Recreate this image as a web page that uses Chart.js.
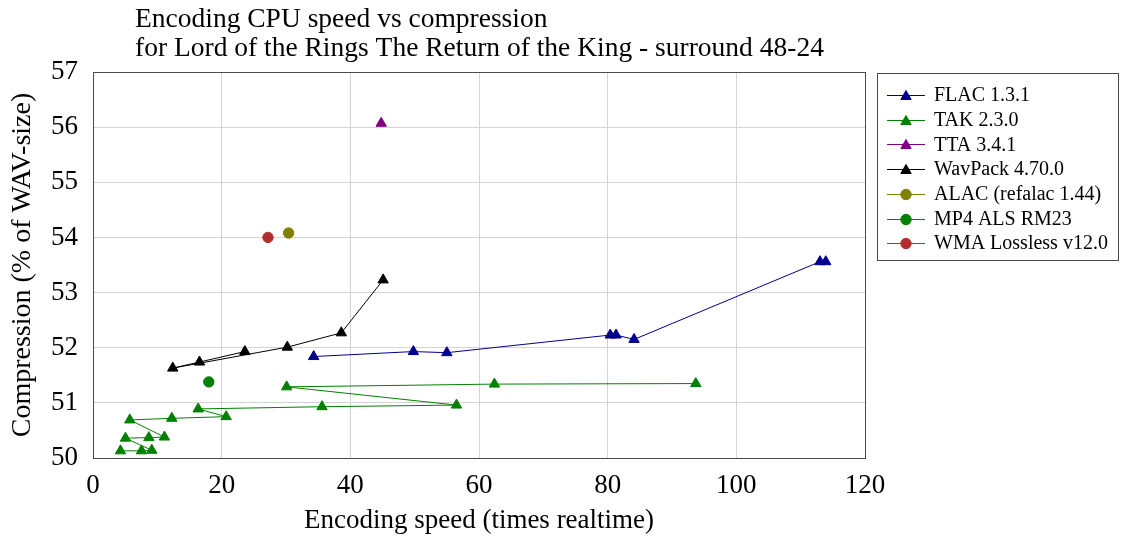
<!DOCTYPE html>
<html>
<head>
<meta charset="utf-8">
<script src="https://cdn.jsdelivr.net/npm/chart.js@4/dist/chart.umd.min.js"></script>
<style>
html,body{margin:0;padding:0;background:#fff;}
#wrap{width:1124px;height:539px;position:relative;}
</style>
</head>
<body>
<div id="wrap"><canvas id="c" width="1124" height="539"></canvas></div>
<script>
// ---- text ----
const titleLines = ["Encoding CPU speed vs compression", "for Lord of the Rings The Return of the King - surround 48-24"];
const xAxisTitle = "Encoding speed (times realtime)";
const yAxisTitle = "Compression (% of WAV-size)";

// ---- axis ticks ----
const xTickValues = [0, 20, 40, 60, 80, 100, 120];
const yTickValues = [50, 51, 52, 53, 54, 55, 56, 57];

// ---- series (speed = times realtime, size = % of WAV) ----
const seriesNames = ["FLAC 1.3.1", "TAK 2.3.0", "TTA 3.4.1", "WavPack 4.70.0", "ALAC (refalac 1.44)", "MP4 ALS RM23", "WMA Lossless v12.0"];
const seriesColors = ["#00008f", "#008000", "#800080", "#000000", "#808000", "#008000", "#b22e2e"];
const seriesMarkers = ["triangle", "triangle", "triangle", "triangle", "circle", "circle", "circle"];

const flacSpeed = [113.9, 113.0, 84.1, 81.3, 80.4, 55.0, 49.8, 34.3];
const flacSize  = [53.56, 53.56, 52.15, 52.23, 52.23, 51.91, 51.93, 51.84];

const takSpeed = [93.7, 62.4, 30.1, 56.5, 35.6, 16.35, 20.7, 12.25, 5.72, 11.1, 8.68, 5.05, 9.14, 7.54, 4.27];
const takSize  = [51.35, 51.34, 51.29, 50.96, 50.93, 50.89, 50.75, 50.72, 50.69, 50.38, 50.37, 50.36, 50.14, 50.13, 50.13];

const ttaSpeed = [44.8];
const ttaSize  = [56.07];

const wavpackSpeed = [45.1, 38.6, 30.2, 12.4, 16.55, 23.6];
const wavpackSize  = [53.23, 52.27, 52.01, 51.63, 51.74, 51.93];

const alacSpeed = [30.4];
const alacSize  = [54.08];

const alsSpeed = [18.0];
const alsSize  = [51.38];

const wmaSpeed = [27.2];
const wmaSize  = [54.00];

const allSpeeds = [flacSpeed, takSpeed, ttaSpeed, wavpackSpeed, alacSpeed, alsSpeed, wmaSpeed];
const allSizes  = [flacSize, takSize, ttaSize, wavpackSize, alacSize, alsSize, wmaSize];

const FONT = '"Liberation Serif", "Times New Roman", serif';
const TRI_R = 6.0, CIR_R = 5.2;

const datasets = seriesNames.map((name, i) => ({
  label: name,
  data: allSpeeds[i].map((s, k) => ({x: s, y: allSizes[i][k]})),
  showLine: true,
  borderColor: seriesColors[i],
  backgroundColor: seriesColors[i],
  borderWidth: 1,
  pointStyle: seriesMarkers[i],
  pointRadius: seriesMarkers[i] === 'triangle' ? TRI_R : CIR_R,
  pointBorderWidth: 1,
  pointBorderColor: seriesColors[i],
  pointBackgroundColor: seriesColors[i],
  clip: false
}));

function marker(ctx, style, x, y, color) {
  ctx.save();
  ctx.fillStyle = color; ctx.strokeStyle = color; ctx.lineWidth = 1;
  ctx.beginPath();
  if (style === 'triangle') {
    const r = TRI_R;
    for (let k = 0; k < 3; k++) {
      const a = k * 2 * Math.PI / 3;
      const px = x + Math.sin(a) * r, py = y - Math.cos(a) * r;
      if (k === 0) ctx.moveTo(px, py); else ctx.lineTo(px, py);
    }
    ctx.closePath();
  } else {
    ctx.arc(x, y, CIR_R, 0, Math.PI * 2);
  }
  ctx.fill(); ctx.stroke();
  ctx.restore();
}

const decor = {
  id: 'decor',
  beforeDatasetsDraw(chart) {
    const {ctx, chartArea: a} = chart;
    ctx.save();
    ctx.strokeStyle = '#4a4a4a';
    ctx.lineWidth = 1;
    ctx.strokeRect(Math.round(a.left) + 0.5, Math.round(a.top) + 0.5, Math.round(a.right - a.left), Math.round(a.bottom - a.top));
    ctx.restore();
  },
  afterDraw(chart) {
    const ctx = chart.ctx;
    ctx.save();
    // title
    ctx.fillStyle = '#000';
    ctx.font = '27.5px ' + FONT;
    ctx.textAlign = 'left';
    ctx.textBaseline = 'alphabetic';
    ctx.fillText(titleLines[0], 135, 27);
    ctx.fillText(titleLines[1], 135, 56);
    // legend
    ctx.strokeStyle = '#4a4a4a';
    ctx.lineWidth = 1;
    ctx.fillStyle = '#fff';
    ctx.fillRect(877.5, 73.5, 241, 187);
    ctx.strokeRect(877.5, 73.5, 241, 187);
    ctx.font = '20px ' + FONT;
    ctx.textBaseline = 'middle';
    seriesNames.forEach((name, i) => {
      const y = 95 + i * 24.7;
      ctx.strokeStyle = seriesColors[i];
      ctx.lineWidth = 1;
      ctx.beginPath();
      ctx.moveTo(887, Math.round(y) + 0.5);
      ctx.lineTo(925, Math.round(y) + 0.5);
      ctx.stroke();
      marker(ctx, seriesMarkers[i], 906, Math.round(y) + 0.5 + (seriesMarkers[i] === 'triangle' ? 1 : 0), seriesColors[i]);
      ctx.fillStyle = '#000';
      ctx.fillText(name, 934, y + 1);
    });
    ctx.restore();
  }
};

new Chart(document.getElementById('c'), {
  type: 'scatter',
  data: {datasets},
  options: {
    responsive: false,
    animation: false,
    devicePixelRatio: 1,
    layout: {padding: {top: 72, right: 259, bottom: 5, left: 9}},
    plugins: {legend: {display: false}, tooltip: {enabled: false}, title: {display: false}},
    scales: {
      x: {
        type: 'linear', min: 0, max: 120,
        afterBuildTicks: s => { s.ticks = xTickValues.map(v => ({value: v})); },
        afterFit: s => { s.height = 76; },
        ticks: {font: {family: FONT, size: 27}, color: '#000', padding: 12, maxRotation: 0},
        grid: {color: '#d4d4d4', drawTicks: false},
        border: {display: false},
        title: {display: true, text: xAxisTitle, color: '#000', font: {family: FONT, size: 27, lineHeight: 1}, padding: 0}
      },
      y: {
        type: 'linear', min: 50, max: 57,
        afterBuildTicks: s => { s.ticks = yTickValues.map(v => ({value: v})); },
        afterFit: s => { s.width = 84; },
        ticks: {font: {family: FONT, size: 27}, color: '#000', padding: 15},
        grid: {color: '#d4d4d4', drawTicks: false},
        border: {display: false},
        title: {display: true, text: yAxisTitle, color: '#000', font: {family: FONT, size: 28, lineHeight: 1}, padding: 0}
      }
    }
  },
  plugins: [decor]
});
</script>
</body>
</html>
